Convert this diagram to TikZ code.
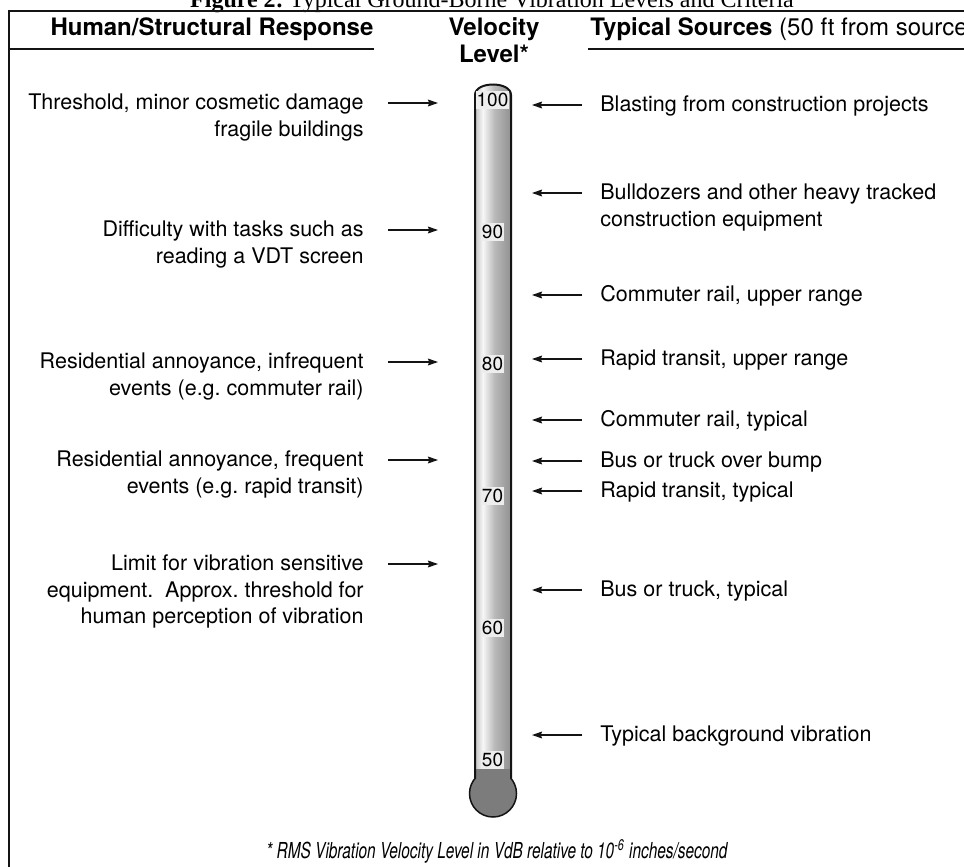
\documentclass[tikz,border=0pt]{standalone}
\usepackage{fontspec}
\setmainfont{TeX Gyre Heros}
\newfontfamily\serifttl{Liberation Serif}
\newfontfamily\narrowsans[FakeStretch=0.7]{TeX Gyre Heros}
\usetikzlibrary{arrows.meta,calc}
\definecolor{ink}{HTML}{141414}
\definecolor{tubeedge}{HTML}{C4C4C4}
\definecolor{tubehi}{HTML}{F7F7F7}
\definecolor{tubemid}{HTML}{B9B9B9}
\definecolor{tubedark}{HTML}{969696}
\definecolor{bulbgrey}{HTML}{7C7C7C}
\definecolor{lvlbg}{HTML}{EDEDED}
\pgfdeclarehorizontalshading{tubeshade}{100bp}{color(0bp)=(tubeedge); color(25bp)=(tubeedge); color(36bp)=(tubehi); color(52bp)=(tubemid); color(72bp)=(tubedark); color(75bp)=(tubedark); color(100bp)=(tubedark)}
\tikzset{
  resp/.style={anchor=north east, align=right, inner sep=0pt, font=\fontsize{10.75}{13.3}\selectfont},
  src/.style={anchor=north west, align=left, inner sep=0pt, font=\fontsize{10.75}{13.3}\selectfont},
  head/.style={anchor=base, inner sep=0pt, font=\fontsize{12}{13}\selectfont\bfseries},
  lvl/.style={fill=lvlbg, inner xsep=0.5pt, inner ysep=1pt, font=\fontsize{9.5}{10}\selectfont},
  ar/.style={-{Stealth[length=5pt,width=3.4pt,inset=0.6pt]}, line width=0.65pt, color=ink},
  rulel/.style={line width=0.75pt, color=ink},
}
\begin{document}
\frenchspacing
\begin{tikzpicture}[x=0.5pt,y=-0.5pt]
\useasboundingbox (0,0) rectangle (964,867);
\fill[white] (0,0) rectangle (964,867);

% --- caption and frame ---
\node[anchor=base, inner sep=0pt, font=\serifttl\fontsize{12}{14}\selectfont] (ttl) at (492,7)
  {\textbf{Figure 2:} Typical Ground-Borne Vibration Levels and Criteria};
\draw[line width=1pt, color=ink] (9,867) -- (9,10.5) -- (964,10.5);

% --- column heads ---
\node[head] (hresp) at (212,35) {Human/Structural Response};
\node[head] (hvel) at (494,35) {Velocity};
\node[head] (hlev) at (494,62) {Level*};
\node[head, anchor=base west] (hsrc) at (590,35) {Typical Sources {\mdseries(50 ft from source}};
\draw[rulel] (9,49) -- (374,49);
\draw[rulel] (588,49) -- (964,49);

% --- thermometer ---
\coordinate (tubeL) at (438,0);
\coordinate (tubeR) at (532,0);
\shade[shading=tubeshade] (475,785) -- (475,95) .. controls (475,81) and (511,81) .. (511,95) -- (511,785) -- cycle;
\fill[bulbgrey] (475,769) rectangle (511,786);
\filldraw[fill=bulbgrey, draw=ink, line width=0.75pt] (493,793.5) circle[radius=23.5];
\fill[bulbgrey] (476,769) rectangle (510,786);
\draw[line width=1pt, color=ink] (475,778.5) -- (475,95) .. controls (475,81) and (511,81) .. (511,95) -- (511,778.5);
\foreach \v in {100,90,...,50}
  \node[lvl] (lv\v) at (492.5,{100+(100-\v)*13.2}) {\v};

% --- human / structural response ---
\node[resp] (r1) at (364,93.5) {Threshold, minor cosmetic damage\\fragile buildings};
\node[resp] (r2) at (364,220.5) {Difficulty with tasks such as\\reading a VDT screen};
\node[resp] (r3) at (364,352.5) {Residential annoyance, infrequent\\events (e.g. commuter rail)};
\node[resp] (r4) at (364,450.5) {Residential annoyance, frequent\\events (e.g. rapid transit)};
\node[resp] (r5) at (364,554.5) {Limit for vibration sensitive\\equipment.\ \ Approx. threshold for\\human perception of vibration};
\draw[ar] ([shift={(24,9.5)}]r1.north east) coordinate (r1a) -- (tubeL |- r1a);
\draw[ar] ([shift={(24,9.5)}]r2.north east) coordinate (r2a) -- (tubeL |- r2a);
\draw[ar] ([shift={(24,9.5)}]r3.north east) coordinate (r3a) -- (tubeL |- r3a);
\draw[ar] ([shift={(24,9.5)}]r4.north east) coordinate (r4a) -- (tubeL |- r4a);
\draw[ar] ([shift={(24,9.5)}]r5.north east) coordinate (r5a) -- (tubeL |- r5a);

% --- typical sources ---
\node[src] (s1) at (600,95.5) {Blasting from construction projects};
\node[src] (s2) at (600,183.5) {Bulldozers and other heavy tracked\\construction equipment};
\node[src] (s3) at (600,285.5) {Commuter rail, upper range};
\node[src] (s4) at (600,349.5) {Rapid transit, upper range};
\node[src] (s5) at (600,410.5) {Commuter rail, typical};
\node[src] (s6) at (600,451.5) {Bus or truck over bump};
\node[src] (s7) at (600,481.5) {Rapid transit, typical};
\node[src] (s8) at (600,580.5) {Bus or truck, typical};
\node[src] (s9) at (600,725.5) {Typical background vibration};
\foreach \s in {s1,s2,s3,s4,s5,s6,s7,s8,s9}
  \draw[ar] ([shift={(-18,9.5)}]\s.north west) coordinate (\s a) -- (tubeR |- \s a);

% --- footnote ---
\node[inner sep=0pt, font=\narrowsans\itshape\fontsize{11}{12}\selectfont] (note) at (497,851)
  {* RMS Vibration Velocity Level in VdB relative to 10\textsuperscript{-6} inches/second};

\end{tikzpicture}
\end{document}
